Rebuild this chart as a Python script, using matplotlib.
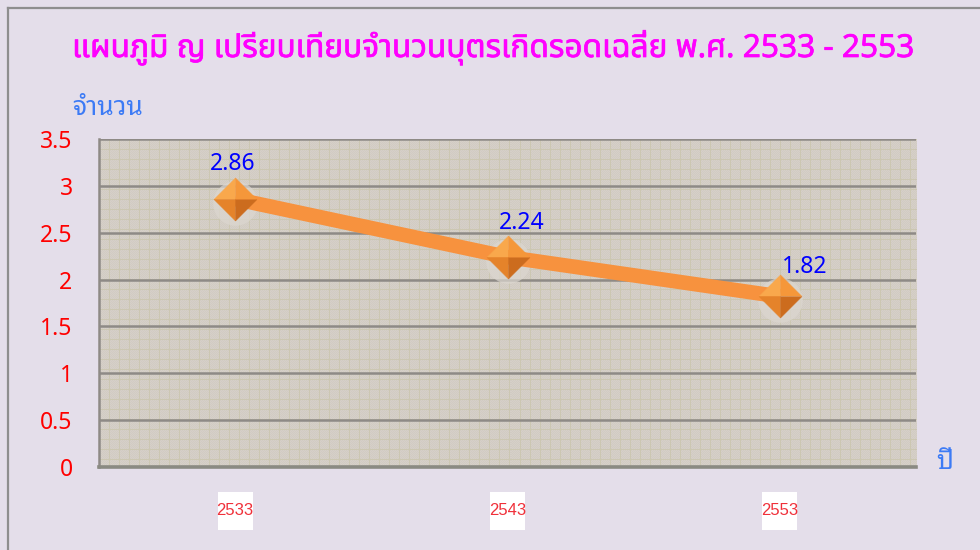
import matplotlib
matplotlib.use("Agg")
import matplotlib.pyplot as plt
import numpy as np
from matplotlib.patches import Rectangle
from matplotlib.lines import Line2D
import matplotlib.transforms as mtransforms
import matplotlib.patheffects as pe

# ---- data ----
categories = ["2533", "2543", "2553"]
values = [2.86, 2.24, 1.82]
value_labels = ["2.86", "2.24", "1.82"]
yticks = [0, 0.5, 1, 1.5, 2, 2.5, 3, 3.5]
ytick_labels = ["0", "0.5", "1", "1.5", "2", "2.5", "3", "3.5"]
title = "แผนภูมิ ญ เปรียบเทียบจำนวนบุตรเกิดรอดเฉลี่ย พ.ศ. 2533 - 2553"
ylabel = "จำนวน"
xlabel = "ปี"

# ---- styling ----
BG = "#E4DEEA"
THAI_PLAIN = ["Noto Sans Thai", "DejaVu Sans"]
THAI_LOOP = ["Noto Sans Thai Looped", "Noto Sans Thai", "DejaVu Sans"]
NUM_FONT = ["Noto Sans", "DejaVu Sans"]
NARROW = ["Liberation Sans Narrow", "Liberation Sans", "DejaVu Sans"]

fig = plt.figure(figsize=(9.8, 5.5), dpi=100, facecolor=BG)
ax = fig.add_axes([99/980, 1 - 467/550, 817/980, 328/550])
ax.set_facecolor("#D5CFC7")

# textured plot background (fine paper-like grid)
h, w = 328, 817
tex = np.empty((h, w, 3))
tex[:] = np.array([214, 208, 200]) / 255
yy, xx = np.mgrid[0:h, 0:w]
checker = ((yy + xx) % 2 == 0)
tex[checker] = np.array([209, 203, 195]) / 255
tex[(yy % 10) == 0] = np.array([204, 199, 178]) / 255
tex[:, (np.arange(w) % 10) == 0] = np.array([204, 199, 178]) / 255
ax.imshow(tex, extent=[0, 1, 0, 1], transform=ax.transAxes, aspect="auto",
          interpolation="nearest", zorder=0)

x = np.arange(len(categories))
ax.set_xlim(-0.5, len(categories) - 0.5)
ax.set_ylim(0, 3.5)

# gridlines
for yv in yticks[1:]:
    ax.axhline(yv, color="#8E8A86", lw=1.8, zorder=1)

# spines
for s in ["top", "right"]:
    ax.spines[s].set_visible(False)
ax.spines["left"].set_color("#8E8A86")
ax.spines["left"].set_linewidth(1.8)
ax.spines["bottom"].set_color("#8A8A82")
ax.spines["bottom"].set_linewidth(2.6)

# line
ax.plot(x, values, color="#F7923E", lw=10.5, solid_capstyle="butt", zorder=3)

# marker soft shadow (slightly below)
shadow_off = mtransforms.offset_copy(ax.transData, fig=fig, x=0, y=-4, units="dots")
ax.plot(x, values, linestyle="none", marker="o", markersize=32,
        markerfacecolor="#DCD7D0", markeredgecolor="none", alpha=0.7, zorder=2.5,
        transform=shadow_off)

# faceted diamond markers
facets = [
    ([(0, 0), (-1, 0), (0, 1)], "#F9A84C"),
    ([(0, 0), (0, 1), (1, 0)], "#F5973A"),
    ([(0, 0), (-1, 0), (0, -1)], "#E5832A"),
    ([(0, 0), (0, -1), (1, 0)], "#CC6C1E"),
]
for verts, col in facets:
    ax.plot(x, values, linestyle="none", marker=verts, markersize=31,
            markerfacecolor=col, markeredgecolor=col, markeredgewidth=0.3, zorder=4)

# data labels
label_offsets = [(-1.5, 25), (10, 24.5), (18, 21)]
for xi, v, lab, off in zip(x, values, value_labels, label_offsets):
    ax.annotate(lab, (xi, v), xytext=off, textcoords="offset points",
                ha="center", va="center", color="#0000FF", fontsize=16.5,
                family=NUM_FONT, zorder=5)

# y ticks
ax.set_yticks(yticks)
ax.set_yticklabels(ytick_labels, color="#FF0000", fontsize=16.5, family=NUM_FONT)
ax.tick_params(axis="y", length=0, pad=19)

# x ticks with white boxes
ax.set_xticks(x)
ax.set_xticklabels(categories, color="#F0303A", fontsize=12, family=NARROW)
ax.tick_params(axis="x", length=0, pad=26)
trans = mtransforms.blended_transform_factory(ax.transData, ax.transAxes)
for xi in x:
    ax.add_patch(Rectangle((xi - 0.064, -0.192), 0.128, 0.116, transform=trans,
                           facecolor="white", edgecolor="none", clip_on=False, zorder=1))

# title and axis titles
fig.text(0.503, 1 - 48/550, title, ha="center", va="center", color="#FF00FF",
         fontsize=22.8, family=THAI_PLAIN,
         path_effects=[pe.withStroke(linewidth=0.5, foreground="#FF00FF")])
fig.text(72/980, 1 - 108/550, ylabel, ha="left", va="center", color="#3D7BF5",
         fontsize=19, family=THAI_LOOP)
fig.text(945/980, 1 - 462/550, xlabel, ha="center", va="center", color="#3D7BF5",
         fontsize=19, family=THAI_LOOP)

# outer chart border
fig.add_artist(Line2D([8/980, 8/980], [0, 1 - 8/550], transform=fig.transFigure,
                      color="#8E8E8E", lw=1.6))
fig.add_artist(Line2D([8/980, 1], [1 - 8/550, 1 - 8/550], transform=fig.transFigure,
                      color="#8E8E8E", lw=1.6))

fig.savefig("out.png", dpi=100, facecolor=BG)
